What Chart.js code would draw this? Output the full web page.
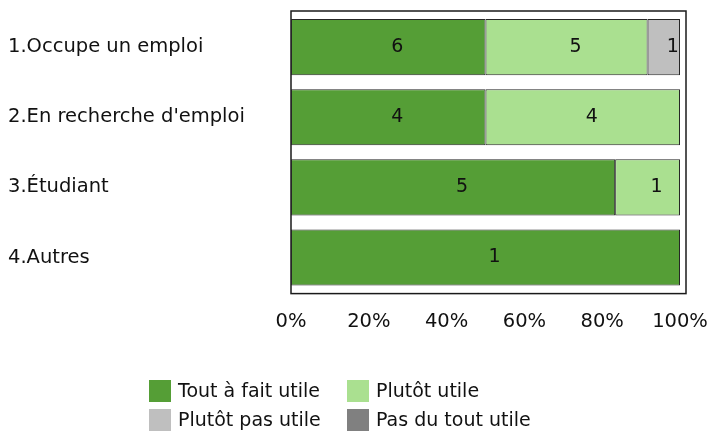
<!DOCTYPE html>
<html>
<head>
<meta charset="utf-8">
<script src="https://cdn.jsdelivr.net/npm/chart.js@4/dist/chart.umd.min.js"></script>
<style>
  html, body { margin: 0; padding: 0; background: #fff; }
  #wrap { width: 707px; height: 433px; }
</style>
</head>
<body>
<div id="wrap"><canvas id="c" width="707" height="433"></canvas></div>
<script>
// Response categories and counts per group
const categories = ['1.Occupe un emploi', "2.En recherche d'emploi", '3.Étudiant', '4.Autres'];
const seriesNames = ['Tout à fait utile', 'Plutôt utile', 'Plutôt pas utile', 'Pas du tout utile'];
const toutAFaitUtile = [6, 4, 5, 1];
const plutotUtile = [5, 4, 1, 0];
const plutotPasUtile = [1, 0, 0, 0];
const pasDuToutUtile = [0, 0, 0, 0];
const xTicks = [0, 20, 40, 60, 80, 100];

const counts = [toutAFaitUtile, plutotUtile, plutotPasUtile, pasDuToutUtile];
const colors = ['#559e36', '#aae090', '#bfbfbf', '#808080'];
const FONT = '"DejaVu Sans", Verdana, sans-serif';
const TEXT = '#111';

const totals = categories.map((_, i) => counts.reduce((s, arr) => s + arr[i], 0));

const datasets = seriesNames.map((name, k) => ({
  label: name,
  counts: counts[k],
  data: counts[k].map((v, i) => totals[i] ? v / totals[i] * 100 : 0),
  backgroundColor: colors[k],
  borderColor: '#262626',
  borderWidth: 1,
  borderSkipped: false,
  categoryPercentage: 0.8,
  barPercentage: 1.0
}));

// Outer frame around the plotting region
const framePlugin = {
  id: 'frame',
  beforeDatasetsDraw(chart) {
    const a = chart.chartArea, ctx = chart.ctx;
    ctx.save();
    ctx.strokeStyle = '#1a1a1a';
    ctx.lineWidth = 1.5;
    ctx.strokeRect(a.left, a.top - 1, a.right - a.left + 6, a.bottom - a.top + 2);
    ctx.restore();
  }
};

// Count labels inside each segment
const valuePlugin = {
  id: 'values',
  afterDatasetsDraw(chart) {
    const ctx = chart.ctx;
    ctx.save();
    ctx.font = '19px ' + FONT;
    ctx.fillStyle = TEXT;
    ctx.textAlign = 'center';
    ctx.textBaseline = 'middle';
    chart.data.datasets.forEach((ds, k) => {
      chart.getDatasetMeta(k).data.forEach((el, i) => {
        const n = ds.counts[i];
        if (!n) return;
        const cx = (el.x + el.base) / 2 + 9;
        ctx.fillText(String(n), cx, el.y);
      });
    });
    ctx.restore();
  }
};

// Two-column legend under the chart
const legendPlugin = {
  id: 'gridLegend',
  afterDraw(chart) {
    const ctx = chart.ctx;
    const colX = [149, 347], rowY = [380, 409], box = 22;
    ctx.save();
    ctx.font = '19px ' + FONT;
    ctx.textBaseline = 'middle';
    ctx.textAlign = 'left';
    chart.data.datasets.forEach((ds, k) => {
      const x = colX[k % 2], y = rowY[Math.floor(k / 2)];
      ctx.fillStyle = ds.backgroundColor;
      ctx.fillRect(x, y, box, box);
      ctx.fillStyle = TEXT;
      ctx.fillText(ds.label, x + 29, y + box / 2 + 1);
    });
    ctx.restore();
  }
};

new Chart(document.getElementById('c'), {
  type: 'bar',
  data: { labels: categories, datasets },
  options: {
    indexAxis: 'y',
    responsive: false,
    animation: false,
    layout: { padding: { left: 8, top: 12, right: 27, bottom: 89 } },
    plugins: { legend: { display: false }, tooltip: { enabled: false } },
    scales: {
      x: {
        stacked: true,
        min: 0, max: 100,
        afterBuildTicks(scale) { scale.ticks = xTicks.map(v => ({ value: v })); },
        afterFit(scale) { scale.paddingLeft = 0; scale.paddingRight = 0; },
        grid: { display: false },
        border: { display: false },
        ticks: { callback: v => v + '%', font: { family: FONT, size: 19.5 }, color: TEXT, padding: 10, maxRotation: 0 }
      },
      y: {
        stacked: true,
        grid: { display: false },
        border: { display: false },
        afterFit(scale) { scale.width = 283; },
        ticks: { crossAlign: 'far', font: { family: FONT, size: 19.5 }, color: TEXT, padding: 0 }
      }
    }
  },
  plugins: [framePlugin, valuePlugin, legendPlugin]
});
</script>
</body>
</html>
